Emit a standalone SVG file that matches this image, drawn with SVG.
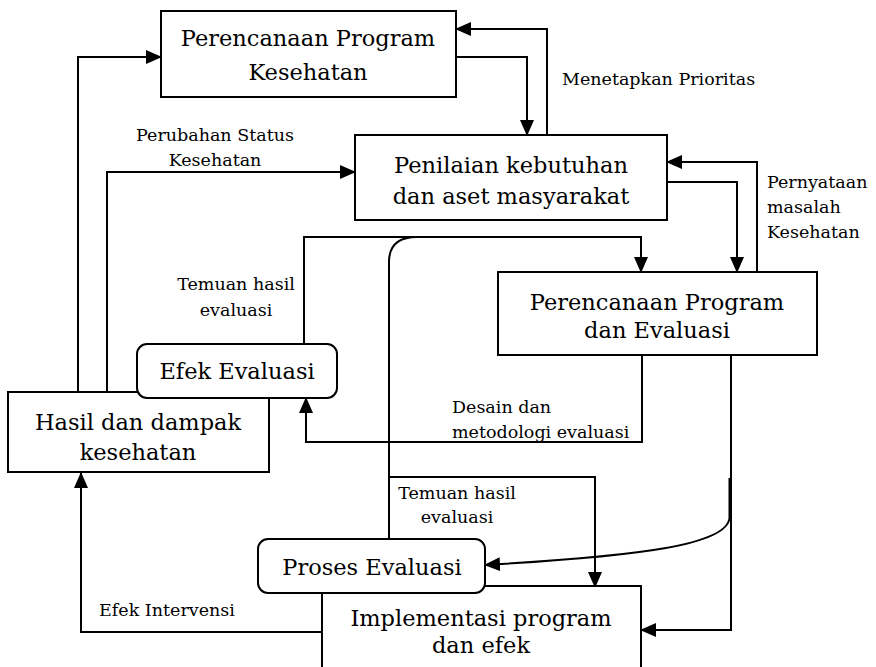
<svg xmlns="http://www.w3.org/2000/svg" width="876" height="667" viewBox="0 0 876 667">
<style>
.box{fill:#fff;stroke:#000;stroke-width:2}
.t{font-family:"DejaVu Serif","Liberation Serif",serif;font-size:22.5px;fill:#000;text-anchor:middle;dominant-baseline:central}
.l{font-family:"DejaVu Serif","Liberation Serif",serif;font-size:17.5px;fill:#000;dominant-baseline:central}
.c{fill:none;stroke:#000;stroke-width:2}
.a{marker-end:url(#ah)}
</style>
<defs>
<marker id="ah" markerUnits="userSpaceOnUse" markerWidth="16" markerHeight="14" refX="15" refY="7" orient="auto" viewBox="0 0 16 14">
<path d="M0,0 L16,7 L0,14 z" fill="#000"/>
</marker>
</defs>
<rect width="876" height="667" fill="#fff"/>
<g id="connectors">
<path class="c a" d="M78,392 V57 H161"/>
<path class="c a" d="M107,392 V172 H355"/>
<path class="c a" d="M456,57 H527 V135"/>
<path class="c a" d="M547,135 V29 H456"/>
<path class="c a" d="M667,182 H737 V272"/>
<path class="c a" d="M757,272 V162 H667"/>
<path class="c a" d="M304,344 V237 H641 V272"/>
<path class="c" d="M389,539 V262 Q389,237 417,237"/>
<path class="c a" d="M642,355 V442 H306 V398"/>
<path class="c a" d="M389,477 H595 V587"/>
<path class="c a" d="M731,355 V630 H641"/>
<path class="c a" d="M729.5,478 V518 C727,545 640,556 485,565"/>
<path class="c a" d="M322,632 H81 V473"/>
<text class="l" x="215" y="135" text-anchor="middle">Perubahan Status</text>
<text class="l" x="215" y="160" text-anchor="middle">Kesehatan</text>
<text class="l" x="562" y="79">Menetapkan Prioritas</text>
<text class="l" x="767" y="182">Pernyataan</text>
<text class="l" x="767" y="207">masalah</text>
<text class="l" x="767" y="232">Kesehatan</text>
<text class="l" x="236" y="284" text-anchor="middle">Temuan hasil</text>
<text class="l" x="236" y="310" text-anchor="middle">evaluasi</text>
<text class="l" x="452" y="407">Desain dan</text>
<text class="l" x="452" y="432">metodologi evaluasi</text>
<text class="l" x="457" y="493" text-anchor="middle">Temuan hasil</text>
<text class="l" x="457" y="517" text-anchor="middle">evaluasi</text>
<text class="l" x="167" y="610" text-anchor="middle">Efek Intervensi</text>
</g>
<g id="n1">
<rect class="box" x="161" y="11" width="295" height="86"/>
<text class="t" x="308" y="38">Perencanaan Program</text>
<text class="t" x="308" y="72">Kesehatan</text>
</g>
<g id="n2">
<rect class="box" x="355" y="135" width="312" height="85"/>
<text class="t" x="511" y="165">Penilaian kebutuhan</text>
<text class="t" x="511" y="196">dan aset masyarakat</text>
</g>
<g id="n3">
<rect class="box" x="498" y="272" width="319" height="83"/>
<text class="t" x="657" y="302">Perencanaan Program</text>
<text class="t" x="657" y="330">dan Evaluasi</text>
</g>
<g id="n4">
<rect class="box" x="8" y="392" width="261" height="80"/>
<text class="t" x="138" y="422">Hasil dan dampak</text>
<text class="t" x="138" y="452">kesehatan</text>
</g>
<g id="n5">
<rect class="box" x="137" y="344" width="200" height="54" rx="10"/>
<text class="t" x="237" y="371">Efek Evaluasi</text>
</g>
<g id="n6">
<rect class="box" x="322" y="586" width="319" height="100"/>
<text class="t" x="481" y="618">Implementasi program</text>
<text class="t" x="481" y="645">dan efek</text>
</g>
<g id="n7">
<rect class="box" x="258" y="539" width="227" height="54" rx="10"/>
<text class="t" x="372" y="567">Proses Evaluasi</text>
</g>
</svg>
